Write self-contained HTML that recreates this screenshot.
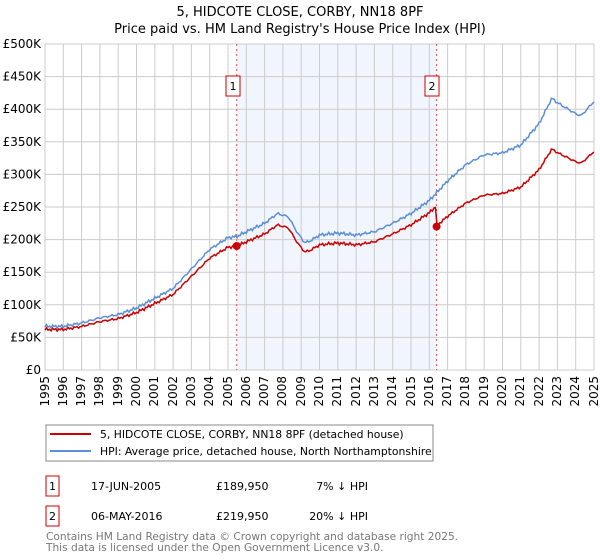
<!DOCTYPE html>
<html><head><meta charset="utf-8"><style>
body{margin:0;background:#fff;font-family:"DejaVu Sans","Liberation Sans",sans-serif;}
#wrap{position:relative;width:600px;height:560px;}
.yr{position:absolute;top:376px;font-size:12px;line-height:12px;white-space:nowrap;writing-mode:vertical-rl;transform:rotate(180deg);}
</style></head><body><div id="wrap">
<svg id="s" width="600" height="560" xmlns="http://www.w3.org/2000/svg" font-family="DejaVu Sans, Liberation Sans, sans-serif" style="position:absolute;left:0;top:0">
<text x="300" y="16" text-anchor="middle" font-size="13">5, HIDCOTE CLOSE, CORBY, NN18 8PF</text>
<text x="300" y="33" text-anchor="middle" font-size="13">Price paid vs. HM Land Registry's House Price Index (HPI)</text>
<rect x="236.7" y="44" width="199.9" height="326" fill="#eef3fc" opacity="0.8"/>
<g id="grid" stroke="#cccccc" stroke-width="1"></g>
<g id="lab" font-size="12"></g>
<line x1="236.7" y1="44" x2="236.7" y2="370" stroke="#e05050" stroke-dasharray="2,3"/>
<line x1="436.6" y1="44" x2="436.6" y2="370" stroke="#e05050" stroke-dasharray="2,3"/>
<polyline id="hpi" fill="none" stroke="#5b8fd6" stroke-width="1.5"/>
<polyline id="red" fill="none" stroke="#cc0000" stroke-width="1.5"/>
<circle cx="236.7" cy="246" r="4" fill="#cc0000"/>
<circle cx="436.6" cy="226.6" r="4" fill="#cc0000"/>
<rect x="226" y="76" width="14" height="20" fill="#fff" stroke="#cc0000"/>
<text x="233" y="90" text-anchor="middle" font-size="11">1</text>
<rect x="425" y="76" width="14" height="20" fill="#fff" stroke="#cc0000"/>
<text x="432" y="90" text-anchor="middle" font-size="11">2</text>
<rect x="46" y="425" width="387" height="36" fill="#fff" stroke="#888"/>
<line x1="50" y1="434" x2="91" y2="434" stroke="#cc0000" stroke-width="2"/>
<text x="100" y="438" font-size="10.8">5, HIDCOTE CLOSE, CORBY, NN18 8PF (detached house)</text>
<line x1="50" y1="451" x2="91" y2="451" stroke="#5b8fd6" stroke-width="2"/>
<text x="100" y="455" font-size="10.8">HPI: Average price, detached house, North Northamptonshire</text>
<rect x="46" y="476" width="13" height="20" fill="#fff" stroke="#cc0000"/>
<text x="52.5" y="490" text-anchor="middle" font-size="11">1</text>
<text x="91" y="490" font-size="11">17-JUN-2005</text>
<text x="216" y="490" font-size="11">£189,950</text>
<text x="368" y="490" text-anchor="end" font-size="11">7% ↓ HPI</text>
<rect x="46" y="506" width="13" height="20" fill="#fff" stroke="#cc0000"/>
<text x="52.5" y="520" text-anchor="middle" font-size="11">2</text>
<text x="91" y="520" font-size="11">06-MAY-2016</text>
<text x="216" y="520" font-size="11">£219,950</text>
<text x="368" y="520" text-anchor="end" font-size="11">20% ↓ HPI</text>
<text x="46" y="540" font-size="10.6" fill="#777">Contains HM Land Registry data © Crown copyright and database right 2025.</text>
<text x="46" y="551" font-size="10.6" fill="#777">This data is licensed under the Open Government Licence v3.0.</text>
</svg>
<div id="yrs"></div>
</div>
<script>
var NS='http://www.w3.org/2000/svg';
var X0=45,X1=594,Y0=370,Y1=44;
function X(t){return X0+(t-1995)*(X1-X0)/30}
function Y(v){return Y0-(v/500)*(Y0-Y1)}
var g=document.getElementById('grid'),l=document.getElementById('lab');
function el(p,tag,a,txt){var e=document.createElementNS(NS,tag);for(var k in a)e.setAttribute(k,a[k]);if(txt!==undefined)e.textContent=txt;p.appendChild(e);return e;}
for(var v=0;v<=500;v+=50){el(g,'line',{x1:X0,y1:Y(v),x2:X1,y2:Y(v)});el(l,'text',{x:41,y:Y(v)+4,'text-anchor':'end'},v?'£'+v+'K':'£0');}
var yh='';
for(var y=1995;y<=2025;y++){el(g,'line',{x1:X(y),y1:Y1,x2:X(y),y2:Y0});yh+='<div class="yr" style="left:'+(X(y)-6.5)+'px">'+y+'</div>';}
document.getElementById('yrs').innerHTML=yh;
var k=[[1995,67],[1996,67],[1997,72],[1998,80],[1999,85],[2000,95],[2001,110],[2002,125],[2003,155],[2004,185],[2005,203],[2005.5,205],[2006,212],[2007,225],[2007.7,240],[2008.3,235],[2008.8,210],[2009.2,195],[2009.5,198],[2010,207],[2011,210],[2012,207],[2013,212],[2014,225],[2015,240],[2016,260],[2016.4,272],[2017,290],[2018,315],[2019,330],[2020,333],[2021,345],[2022,378],[2022.7,417],[2023,410],[2024,393],[2024.3,390],[2025,412]];
function hpi(t){for(var i=0;i<k.length-1;i++){if(t<=k[i+1][0]){var a=k[i],b=k[i+1];return a[1]+(b[1]-a[1])*(t-a[0])/(b[0]-a[0]);}}return k[k.length-1][1];}
var ph=[],pr=[];
for(var t=1995;t<=2025.001;t+=1/12){var n=Math.sin(t*37.1)*1.5+Math.sin(t*91.3)*1.2;var v=hpi(t)+n;ph.push(X(t)+','+Y(v));
var r=t<2016.35?v*189.95/hpi(2005.46):v*219.95/hpi(2016.35);
pr.push(X(t)+','+Y(r));}
document.getElementById('hpi').setAttribute('points',ph.join(' '));
document.getElementById('red').setAttribute('points',pr.join(' '));
</script>
</body></html>
